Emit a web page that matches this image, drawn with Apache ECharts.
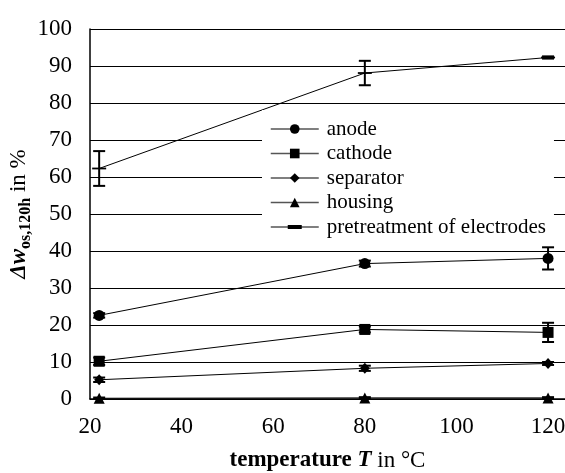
<!DOCTYPE html>
<html>
<head>
<meta charset="utf-8">
<script src="https://cdn.jsdelivr.net/npm/echarts@6/dist/echarts.min.js"></script>
<style>
  html, body { margin: 0; padding: 0; background: #fff; }
  #chart { width: 565px; height: 473px; }
</style>
</head>
<body>
<div id="chart"></div>
<script>
// temperature in °C
const temps = [22, 80, 120];
const xTicks = [20, 40, 60, 80, 100, 120];

// mass loss in %, with error bars
const anode = [22.6, 36.6, 38.0];
const anodeErr = [0.6, 0.8, 3.0];
const cathode = [10.2, 18.8, 18.0];
const cathodeErr = [1.0, 0.8, 2.6];
const separator = [5.2, 8.3, 9.6];
const separatorErr = [0.6, 0.7, 0.4];
const housing = [0.2, 0.3, 0.3];
const housingErr = [0.2, 0.2, 0.2];
const pretreat = [62.3, 88.1, 92.3];
const pretreatErr = [4.7, 3.3, 0.3];

const names = ['anode', 'cathode', 'separator', 'housing', 'pretreatment of electrodes'];
const values = [anode, cathode, separator, housing, pretreat];
const errors = [anodeErr, cathodeErr, separatorErr, housingErr, pretreatErr];
const dash = 'path://M0,0 L14,0 L14,5 L0,5 Z';
const symbols = ['circle', 'rect', 'diamond', 'triangle', dash];
const symbolSizes = [11, 11, [10, 11], 11, [14, 5]];

const font = "'Liberation Serif', 'Times New Roman', serif";
const chart = echarts.init(document.getElementById('chart'));

const lineSeries = names.map(function (n, i) {
  return {
    name: n,
    type: 'line',
    data: temps.map(function (t, j) { return [t, values[i][j]]; }),
    symbol: symbols[i],
    symbolSize: symbolSizes[i],
    symbolKeepAspect: true,
    showAllSymbol: true,
    lineStyle: { color: '#000', width: 1 },
    itemStyle: { color: '#000' },
    z: 3
  };
});

// error bars
const errData = [];
values.forEach(function (v, i) {
  temps.forEach(function (t, j) {
    errData.push([t, v[j] - errors[i][j], v[j] + errors[i][j]]);
  });
});

const errSeries = {
  type: 'custom',
  name: 'err',
  data: errData,
  z: 4,
  renderItem: function (params, api) {
    const lo = api.coord([api.value(0), api.value(1)]);
    const hi = api.coord([api.value(0), api.value(2)]);
    const w = 6;
    const st = { stroke: '#000', lineWidth: 2 };
    return {
      type: 'group',
      children: [
        { type: 'line', shape: { x1: lo[0], y1: lo[1], x2: hi[0], y2: hi[1] }, style: st },
        { type: 'line', shape: { x1: lo[0] - w, y1: lo[1], x2: lo[0] + w, y2: lo[1] }, style: st },
        { type: 'line', shape: { x1: hi[0] - w, y1: hi[1], x2: hi[0] + w, y2: hi[1] }, style: st }
      ]
    };
  }
};

// legend entries: the last one gets a line-with-dash icon
const legendData = names.map(function (n, i) {
  if (i === 4) {
    return { name: n, icon: 'path://M0,5.4 L48,5.4 L48,6.6 L0,6.6 Z M17,4 L31,4 L31,8 L17,8 Z' };
  }
  return { name: n };
});

const option = {
  animation: false,
  backgroundColor: '#fff',
  textStyle: { fontFamily: font },
  grid: { left: 90, right: 0, top: 29, bottom: 74, containLabel: false, outerBoundsMode: 'none' },
  legend: {
    data: legendData,
    orient: 'vertical',
    left: 262,
    top: 110,
    padding: [8, 8, 8, 8],
    backgroundColor: '#fff',
    itemWidth: 48,
    itemHeight: 12,
    itemGap: 2.5,
    lineStyle: { color: '#555', width: 1.5 },
    textStyle: { fontFamily: font, fontSize: 21, color: '#000', lineHeight: 22, padding: [0, 0, 0, 3] }
  },
  xAxis: {
    type: 'value',
    min: xTicks[0],
    max: 123.7,
    interval: 20,
    name: '{b|temperature }{bi|T}{r| in °C}',
    nameLocation: 'middle',
    nameGap: 50,
    nameMoveOverlap: false,
    nameTextStyle: {
      rich: {
        b: { fontFamily: font, fontSize: 23, fontWeight: 'bold', color: '#000' },
        bi: { fontFamily: font, fontSize: 23, fontWeight: 'bold', fontStyle: 'italic', color: '#000' },
        r: { fontFamily: font, fontSize: 23, color: '#000' }
      }
    },
    axisLine: { lineStyle: { color: '#000', width: 1.5 } },
    axisTick: { show: false },
    splitLine: { show: false },
    axisLabel: {
      fontFamily: font, fontSize: 23, color: '#000', margin: 16,
      formatter: function (v) { return xTicks.indexOf(v) >= 0 ? String(v) : ''; }
    }
  },
  yAxis: {
    type: 'value',
    min: 0,
    max: 100,
    interval: 10,
    name: '{a|Δw}{s|os,120h}{r| in %}',
    nameLocation: 'middle',
    nameGap: 56,
    nameMoveOverlap: false,
    nameTextStyle: {
      rich: {
        a: { fontFamily: font, fontSize: 23, fontWeight: 'bold', fontStyle: 'italic', color: '#000', lineHeight: 30 },
        s: { fontFamily: font, fontSize: 16, fontWeight: 'bold', color: '#000', lineHeight: 14, verticalAlign: 'bottom' },
        r: { fontFamily: font, fontSize: 23, color: '#000', lineHeight: 30 }
      }
    },
    axisLine: { show: true, lineStyle: { color: '#000', width: 1.5 } },
    axisTick: { show: false },
    splitLine: { lineStyle: { color: '#000', width: 1 } },
    axisLabel: { fontFamily: font, fontSize: 23, color: '#000', margin: 18 }
  },
  series: lineSeries.concat([errSeries])
};

chart.setOption(option);
</script>
</body>
</html>
